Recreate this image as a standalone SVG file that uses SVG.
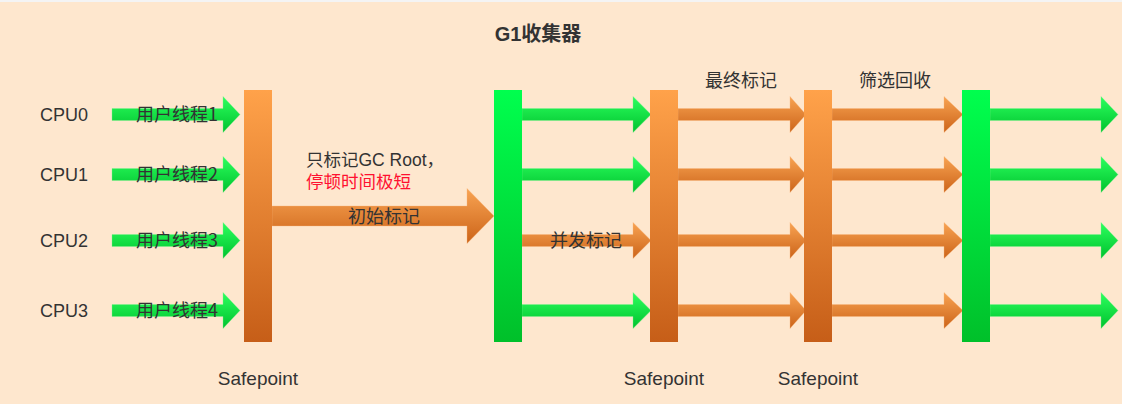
<svg xmlns="http://www.w3.org/2000/svg" width="1122" height="404" viewBox="0 0 1122 404">
  <defs>
    <linearGradient id="gOrangeBar" x1="0" y1="0" x2="0" y2="1">
      <stop offset="0" stop-color="#FFA24A"/>
      <stop offset="1" stop-color="#C65E18"/>
    </linearGradient>
    <linearGradient id="gGreenBar" x1="0" y1="0" x2="0" y2="1">
      <stop offset="0" stop-color="#00FF4E"/>
      <stop offset="1" stop-color="#00C02A"/>
    </linearGradient>
    <linearGradient id="gOrangeArrow" x1="0" y1="0" x2="0" y2="1">
      <stop offset="0" stop-color="#F8A352"/>
      <stop offset="1" stop-color="#CC6419"/>
    </linearGradient>
    <linearGradient id="gGreenArrow" x1="0" y1="0" x2="0" y2="1">
      <stop offset="0" stop-color="#2CFF5E"/>
      <stop offset="1" stop-color="#00C22E"/>
    </linearGradient>
    <style>
      .bg { fill: #FEE7CE; }
      .obar { fill: url(#gOrangeBar); }
      .gbar { fill: url(#gGreenBar); }
      .oarr { fill: url(#gOrangeArrow); stroke: #F9B77A; stroke-width: 0.6; stroke-opacity: 0.6; }
      .garr { fill: url(#gGreenArrow); stroke: #7CF58E; stroke-width: 0.6; stroke-opacity: 0.6; }
      text { font-family: "Liberation Sans", "Noto Sans CJK SC", sans-serif; fill: #333333; font-size: 18px; }
      .cjk { font-family: "Noto Sans CJK SC", "Liberation Sans", sans-serif; }
      .mid { text-anchor: middle; }
      .title { font-size: 20px; font-weight: bold; }
      .red { fill: #FF1030; }
      .sp { font-size: 19px; }
      .note { font-size: 17.5px; }
    </style>
  </defs>

  <rect x="0" y="0" width="1122" height="404" class="bg"/>
  <rect x="0" y="0" width="1122" height="2" fill="#F4F4F4"/>

  <text class="title mid" x="538" y="41">G1收集器</text>

  <g id="connectors">
    <polygon class="garr" points="112,108.5 223,108.5 223,96.5 240,114.5 223,132.5 223,120.5 112,120.5"/>
    <polygon class="garr" points="112,168.5 223,168.5 223,156.5 240,174.5 223,192.5 223,180.5 112,180.5"/>
    <polygon class="garr" points="112,234.5 223,234.5 223,222.5 240,240.5 223,258.5 223,246.5 112,246.5"/>
    <polygon class="garr" points="112,304.5 223,304.5 223,292.5 240,310.5 223,328.5 223,316.5 112,316.5"/>
    <polygon class="oarr" points="272,206 467,206 467,188.5 494,216 467,243.5 467,226 272,226"/>
    <polygon class="garr" points="522,108.5 633,108.5 633,96.5 651,114.5 633,132.5 633,120.5 522,120.5"/>
    <polygon class="garr" points="522,168.5 633,168.5 633,156.5 651,174.5 633,192.5 633,180.5 522,180.5"/>
    <polygon class="oarr" points="522,234.5 633,234.5 633,222.5 651,240.5 633,258.5 633,246.5 522,246.5"/>
    <polygon class="garr" points="522,304.5 633,304.5 633,292.5 651,310.5 633,328.5 633,316.5 522,316.5"/>
    <polygon class="oarr" points="678,108.5 790,108.5 790,96.5 806,114.5 790,132.5 790,120.5 678,120.5"/>
    <polygon class="oarr" points="678,168.5 790,168.5 790,156.5 806,174.5 790,192.5 790,180.5 678,180.5"/>
    <polygon class="oarr" points="678,234.5 790,234.5 790,222.5 806,240.5 790,258.5 790,246.5 678,246.5"/>
    <polygon class="oarr" points="678,304.5 790,304.5 790,292.5 806,310.5 790,328.5 790,316.5 678,316.5"/>
    <polygon class="oarr" points="832,108.5 944,108.5 944,96.5 963,114.5 944,132.5 944,120.5 832,120.5"/>
    <polygon class="oarr" points="832,168.5 944,168.5 944,156.5 963,174.5 944,192.5 944,180.5 832,180.5"/>
    <polygon class="oarr" points="832,234.5 944,234.5 944,222.5 963,240.5 944,258.5 944,246.5 832,246.5"/>
    <polygon class="oarr" points="832,304.5 944,304.5 944,292.5 963,310.5 944,328.5 944,316.5 832,316.5"/>
    <polygon class="garr" points="990,108.5 1101,108.5 1101,96.5 1118,114.5 1101,132.5 1101,120.5 990,120.5"/>
    <polygon class="garr" points="990,168.5 1101,168.5 1101,156.5 1118,174.5 1101,192.5 1101,180.5 990,180.5"/>
    <polygon class="garr" points="990,234.5 1101,234.5 1101,222.5 1118,240.5 1101,258.5 1101,246.5 990,246.5"/>
    <polygon class="garr" points="990,304.5 1101,304.5 1101,292.5 1118,310.5 1101,328.5 1101,316.5 990,316.5"/>
  </g>

  <g id="cpu0"><text class="mid" x="64" y="121">CPU0</text></g>
  <g id="cpu1"><text class="mid" x="64" y="181">CPU1</text></g>
  <g id="cpu2"><text class="mid" x="64" y="247">CPU2</text></g>
  <g id="cpu3"><text class="mid" x="64" y="317">CPU3</text></g>

  <g id="thread-labels">
    <text class="cjk mid" x="177" y="121">用户线程1</text>
    <text class="cjk mid" x="177" y="181">用户线程2</text>
    <text class="cjk mid" x="177" y="247">用户线程3</text>
    <text class="cjk mid" x="177" y="317">用户线程4</text>
  </g>

  <g id="safepoint1">
    <rect class="obar" x="244" y="90" width="28" height="252"/>
    <text class="sp mid" x="258" y="385">Safepoint</text>
  </g>
  <g id="initial-mark-label">
    <text class="note" x="306" y="165.5">只标记GC Root，</text>
    <text class="cjk red note" x="306" y="188">停顿时间极短</text>
    <text class="cjk mid" x="384" y="222.5">初始标记</text>
  </g>
  <g id="concurrent-start">
    <rect class="gbar" x="494" y="90" width="28" height="252"/>
  </g>
  <g id="concurrent-label">
    <text class="cjk mid" x="586" y="247">并发标记</text>
  </g>
  <g id="safepoint2">
    <rect class="obar" x="650" y="90" width="28" height="252"/>
    <text class="sp mid" x="664" y="385">Safepoint</text>
  </g>
  <g id="final-mark-label">
    <text class="cjk mid" x="741" y="87">最终标记</text>
  </g>
  <g id="safepoint3">
    <rect class="obar" x="804" y="90" width="28" height="252"/>
    <text class="sp mid" x="818" y="385">Safepoint</text>
  </g>
  <g id="cleanup-label">
    <text class="cjk mid" x="895" y="87">筛选回收</text>
  </g>
  <g id="resume">
    <rect class="gbar" x="962" y="90" width="28" height="252"/>
  </g>
</svg>
